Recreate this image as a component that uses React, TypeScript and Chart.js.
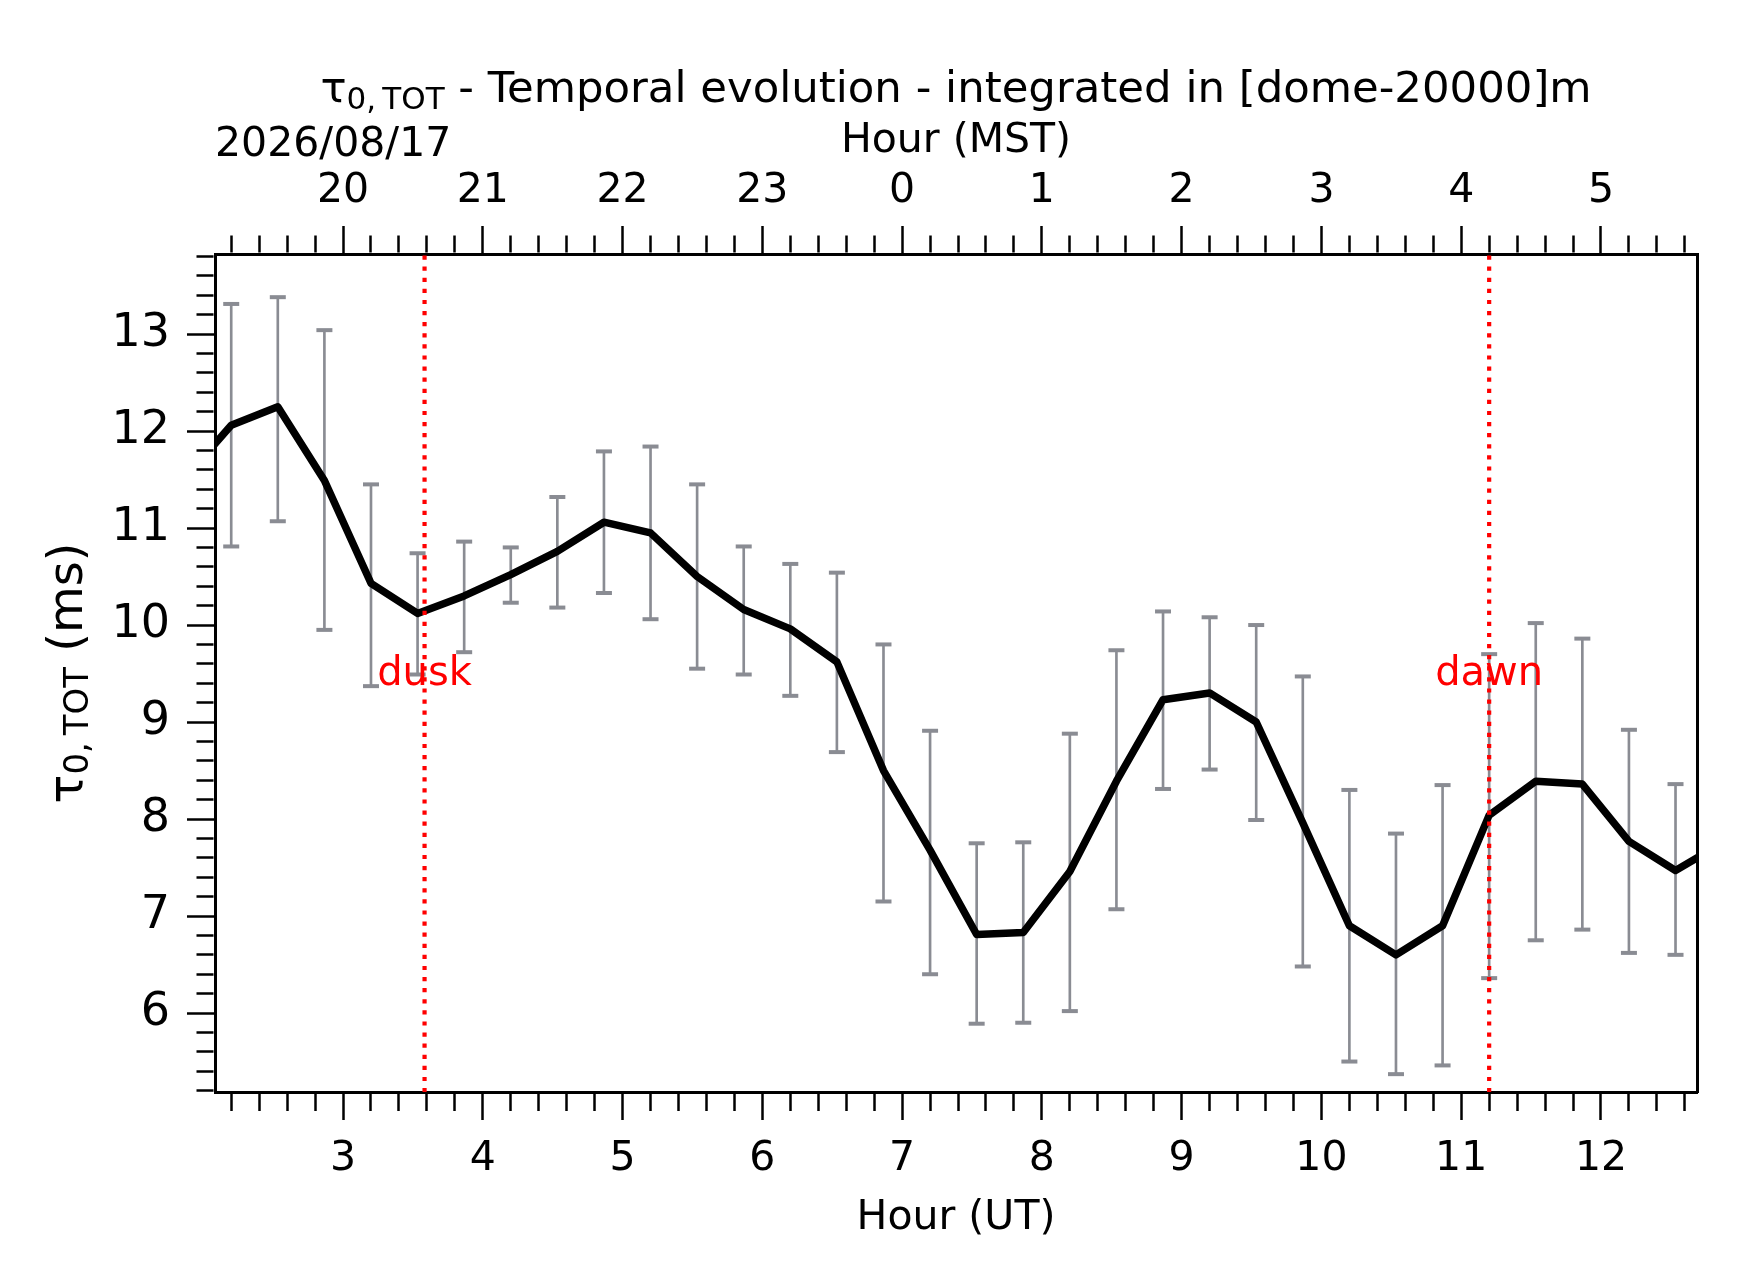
import React, { useEffect, useRef } from 'react';
import { Chart, registerables } from 'chart.js';

Chart.register(...registerables);

const FONT = '"DejaVu Sans", "Liberation Sans", sans-serif';
const GREY = '#8a8c93';

// UT hour of every 20-min sample; the first and last ones sit just outside the plotted window
const hoursUT = [
  1.8667, 2.2, 2.5333, 2.8667, 3.2, 3.5333, 3.8667, 4.2, 4.5333, 4.8667, 5.2, 5.5333,
  5.8667, 6.2, 6.5333, 6.8667, 7.2, 7.5333, 7.8667, 8.2, 8.5333, 8.8667, 9.2, 9.5333,
  9.8667, 10.2, 10.5333, 10.8667, 11.2, 11.5333, 11.8667, 12.2, 12.5333, 12.8667,
];
const tau0 = [
  11.51, 12.06, 12.25, 11.49, 10.43, 10.12, 10.3, 10.52, 10.76, 11.06, 10.95, 10.5,
  10.16, 9.96, 9.62, 8.5, 7.68, 6.81, 6.83, 7.46, 8.39, 9.23, 9.3, 9.0,
  7.96, 6.9, 6.6, 6.9, 8.04, 8.39, 8.36, 7.77, 7.47, 7.75,
];
const errHigh = [
  null, 13.31, 13.38, 13.04, 11.45, 10.74, 10.86, 10.8, 11.32, 11.79, 11.84, 11.45,
  10.81, 10.63, 10.54, 9.8, 8.91, 7.75, 7.76, 8.88, 9.74, 10.14, 10.08, 10.0,
  9.47, 8.3, 7.85, 8.35, 9.7, 10.02, 9.86, 8.92, 8.36, null,
];
const errLow = [
  null, 10.81, 11.07, 9.95, 9.37, 9.49, 9.72, 10.23, 10.18, 10.33, 10.06, 9.55,
  9.49, 9.27, 8.69, 7.15, 6.4, 5.89, 5.9, 6.02, 7.07, 8.31, 8.51, 7.99,
  6.48, 5.5, 5.37, 5.46, 6.36, 6.75, 6.86, 6.62, 6.6, null,
];

const xMajorTicks = [3, 4, 5, 6, 7, 8, 9, 10, 11, 12];
const mstTickLabels = ['20', '21', '22', '23', '0', '1', '2', '3', '4', '5'];
const yMajorTicks = [6, 7, 8, 9, 10, 11, 12, 13];

const eventHours = [3.5833, 11.2];
const eventLabels = ['dusk', 'dawn'];
const eventLabelLevel = 9.38;

const dateLabel = '2026/08/17';

const X_MIN = 2.084;
const X_MAX = 12.687;
const Y_MIN = 5.186;
const Y_MAX = 13.825;
const MINOR_STEP = 0.2;

const TICK_LEN = 28;
const MINOR_LEN = 17;
const BORDER_W = 3;

const buildTicks = (min: number, max: number) => {
  const out: { value: number }[] = [];
  for (let k = Math.ceil(min / MINOR_STEP - 1e-9); k * MINOR_STEP <= max + 1e-9; k++) {
    out.push({ value: +(k * MINOR_STEP).toFixed(4) });
  }
  return out;
};

const majorIndex = (v: number, majors: number[]) => majors.findIndex((m) => Math.abs(m - v) < 1e-6);

// visible part of a tick runs from the border outward (bottom) or from the outer end inward (top/left)
const visibleLen = TICK_LEN - BORDER_W / 2;
const dashFromBorder = (c: any, majors: number[]) =>
  c.tick && majorIndex(c.tick.value, majors) < 0 ? [MINOR_LEN, 200] : [];
const dashFromOuter = (c: any, majors: number[]) =>
  c.tick && majorIndex(c.tick.value, majors) < 0 ? [0, visibleLen - MINOR_LEN, MINOR_LEN, 200] : [];

type Part = { t: string; size: number; dy: number };

const drawParts = (ctx: CanvasRenderingContext2D, parts: Part[], cx: number, baseline: number) => {
  const widths = parts.map((p) => {
    ctx.font = `${p.size}px ${FONT}`;
    return ctx.measureText(p.t).width;
  });
  let x = cx - widths.reduce((a, b) => a + b, 0) / 2;
  parts.forEach((p, i) => {
    ctx.font = `${p.size}px ${FONT}`;
    ctx.fillText(p.t, x, baseline + p.dy);
    x += widths[i];
  });
};

const overlayPlugin = {
  id: 'overlay',
  afterDatasetsDraw(chart: any) {
    const { ctx, chartArea, scales } = chart;
    ctx.save();
    eventHours.forEach((h, i) => {
      const px = scales.x.getPixelForValue(h);
      ctx.strokeStyle = '#ff0000';
      ctx.lineWidth = 4.2;
      ctx.setLineDash([4.2, 6.9]);
      ctx.beginPath();
      ctx.moveTo(px, chartArea.top + BORDER_W / 2);
      ctx.lineTo(px, chartArea.bottom);
      ctx.stroke();
      ctx.setLineDash([]);
      ctx.fillStyle = '#ff0000';
      ctx.font = `40px ${FONT}`;
      ctx.textAlign = 'center';
      ctx.textBaseline = 'alphabetic';
      ctx.fillText(eventLabels[i], px, scales.y.getPixelForValue(eventLabelLevel));
    });
    ctx.restore();
  },
  afterDraw(chart: any) {
    const { ctx, chartArea } = chart;
    const cx = (chartArea.left + chartArea.right) / 2;
    ctx.save();
    ctx.fillStyle = '#000';
    ctx.textAlign = 'left';
    ctx.textBaseline = 'alphabetic';

    // title
    drawParts(
      ctx,
      [
        { t: 'τ', size: 43.4, dy: 0 },
        { t: '0,\u2009TOT', size: 31, dy: 6.5 },
        { t: ' - Temporal evolution - integrated in [dome-20000]m', size: 43.4, dy: 0 },
      ],
      cx,
      102
    );

    // date above the MST axis
    ctx.font = `41px ${FONT}`;
    ctx.fillText(dateLabel, chartArea.left, 156);

    // y-axis label
    ctx.translate(82, (chartArea.top + chartArea.bottom) / 2);
    ctx.rotate(-Math.PI / 2);
    drawParts(
      ctx,
      [
        { t: 'τ', size: 48, dy: 0 },
        { t: '0,\u2009TOT', size: 34, dy: 6 },
        { t: ' (ms)', size: 48, dy: 0 },
      ],
      0,
      0
    );
    ctx.restore();
  },
};

const App: React.FC = () => {
  const chartRef = useRef<HTMLCanvasElement>(null);
  const chartInstance = useRef<Chart | null>(null);

  useEffect(() => {
    if (!chartRef.current) return;
    const ctx = chartRef.current.getContext('2d');
    if (!ctx) return;

    Chart.defaults.font.family = FONT;
    Chart.defaults.color = '#000';

    const lineData = hoursUT.map((h, i) => ({ x: h, y: tau0[i] }));
    const barData: { x: number; y: number[] }[] = [];
    const capData: { x: number; y: number }[] = [];
    hoursUT.forEach((h, i) => {
      const lo = errLow[i];
      const hi = errHigh[i];
      if (lo === null || hi === null) return;
      barData.push({ x: h, y: [lo, hi] });
      capData.push({ x: h, y: lo }, { x: h, y: hi });
    });

    const gridBase = {
      drawOnChartArea: false,
      offset: false,
      tickLength: TICK_LEN,
      tickWidth: 2.5,
      tickColor: '#000',
    };
    const borderBase = { display: true, color: '#000', width: BORDER_W };

    chartInstance.current = new Chart(ctx, {
      type: 'line',
      data: {
        datasets: [
          {
            type: 'line',
            data: lineData,
            borderColor: '#000',
            borderWidth: 7.5,
            borderJoinStyle: 'round',
            pointRadius: 0,
            tension: 0,
            xAxisID: 'x',
            yAxisID: 'y',
            order: 0,
          },
          {
            type: 'scatter',
            data: capData,
            pointStyle: 'line',
            pointRadius: 8,
            pointBorderWidth: 4,
            pointBorderColor: GREY,
            borderColor: GREY,
            xAxisID: 'x',
            yAxisID: 'y',
            order: 1,
          },
          {
            type: 'bar',
            data: barData,
            backgroundColor: GREY,
            borderWidth: 0,
            barThickness: 2,
            xAxisID: 'x',
            yAxisID: 'y',
            order: 2,
          },
        ] as any,
      },
      options: {
        animation: false,
        responsive: false,
        events: [],
        layout: { padding: 0 },
        plugins: {
          legend: { display: false },
          tooltip: { enabled: false },
          title: { display: false },
        },
        scales: {
          x: {
            type: 'linear',
            position: 'bottom',
            min: X_MIN,
            max: X_MAX,
            offset: false,
            afterBuildTicks: (s: any) => {
              s.ticks = buildTicks(X_MIN, X_MAX);
            },
            afterFit: (s: any) => {
              s.height = 190;
            },
            grid: { ...gridBase, tickBorderDash: (c: any) => dashFromBorder(c, xMajorTicks) },
            border: borderBase,
            ticks: {
              autoSkip: false,
              maxRotation: 0,
              minRotation: 0,
              padding: 15,
              color: '#000',
              font: { family: FONT, size: 41 },
              callback: (v: any) => (majorIndex(Number(v), xMajorTicks) >= 0 ? String(Math.round(Number(v))) : ''),
            },
            title: {
              display: true,
              text: 'Hour (UT)',
              color: '#000',
              font: { family: FONT, size: 41 },
              padding: { top: 0, bottom: 39.5 },
            },
          },
          x2: {
            type: 'linear',
            position: 'top',
            min: X_MIN,
            max: X_MAX,
            offset: false,
            afterBuildTicks: (s: any) => {
              s.ticks = buildTicks(X_MIN, X_MAX);
            },
            afterFit: (s: any) => {
              s.height = 254;
            },
            grid: { ...gridBase, tickBorderDash: (c: any) => dashFromOuter(c, xMajorTicks) },
            border: borderBase,
            ticks: {
              autoSkip: false,
              maxRotation: 0,
              minRotation: 0,
              padding: 10,
              color: '#000',
              font: { family: FONT, size: 41 },
              callback: (v: any) => {
                const k = majorIndex(Number(v), xMajorTicks);
                return k >= 0 ? mstTickLabels[k] : '';
              },
            },
            title: {
              display: true,
              text: 'Hour (MST)',
              color: '#000',
              font: { family: FONT, size: 41 },
              padding: { top: 117, bottom: 0 },
            },
          },
          y: {
            type: 'linear',
            position: 'left',
            min: Y_MIN,
            max: Y_MAX,
            afterBuildTicks: (s: any) => {
              s.ticks = buildTicks(Y_MIN, Y_MAX);
            },
            afterFit: (s: any) => {
              s.width = 215;
            },
            grid: { ...gridBase, tickBorderDash: (c: any) => dashFromOuter(c, yMajorTicks) },
            border: borderBase,
            ticks: {
              autoSkip: false,
              padding: 17,
              color: '#000',
              font: { family: FONT, size: 46 },
              callback: (v: any) => (majorIndex(Number(v), yMajorTicks) >= 0 ? String(Math.round(Number(v))) : ''),
            },
            title: { display: false },
          },
          yR: {
            type: 'linear',
            position: 'right',
            min: Y_MIN,
            max: Y_MAX,
            afterFit: (s: any) => {
              s.width = 45;
            },
            grid: { display: false, drawOnChartArea: false, drawTicks: false },
            border: borderBase,
            ticks: { display: false },
          },
        },
      } as any,
      plugins: [overlayPlugin],
    });

    return () => {
      if (chartInstance.current) {
        chartInstance.current.destroy();
        chartInstance.current = null;
      }
    };
  }, []);

  return (
    <div style={{ position: 'fixed', left: 0, top: 0, width: 1742, height: 1282, background: '#fff' }}>
      <canvas ref={chartRef} width={1742} height={1282} style={{ display: 'block' }} />
    </div>
  );
};

export default App;
